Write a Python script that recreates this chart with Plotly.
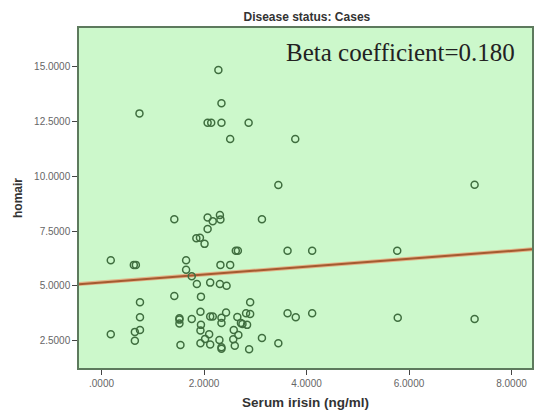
import plotly.graph_objects as go

# Data (Serum irisin vs homair)
irisin = [0.74, 2.28, 2.34, 2.07, 2.14, 2.34, 2.87, 2.51, 3.78, 3.45, 7.28,
          1.42, 2.07, 2.17, 2.31, 2.32, 3.13, 2.07, 1.85, 1.92, 2.01,
          2.62, 2.66, 3.63, 4.11, 5.77, 0.18, 1.65, 0.63, 0.67, 1.65,
          2.32, 2.51, 1.76, 1.86, 2.12, 2.31, 2.44, 1.42, 1.94, 0.75,
          2.90, 1.93, 2.43, 2.82, 2.90, 3.63, 4.11, 0.75, 1.52, 1.52,
          1.52, 1.76, 2.12, 2.17, 2.34, 2.34, 2.65, 3.79, 5.78, 7.28,
          2.72, 2.75, 2.84, 1.94, 0.75, 0.65, 0.18, 1.93, 2.58, 2.10,
          2.67, 2.02, 2.30, 2.57, 3.13, 0.65, 1.93, 2.12, 3.45, 1.54,
          2.34, 2.34, 2.60, 2.88]
homair = [12.88, 14.86, 13.34, 12.45, 12.45, 12.45, 12.45, 11.71, 11.71, 9.61, 9.62,
          8.04, 8.12, 7.95, 8.24, 8.03, 8.04, 7.60, 7.18, 7.20, 6.92,
          6.61, 6.61, 6.61, 6.61, 6.61, 6.17, 6.17, 5.96, 5.96, 5.74,
          5.96, 5.96, 5.44, 5.09, 5.15, 5.09, 5.01, 4.54, 4.51, 4.25,
          4.25, 3.82, 3.78, 3.75, 3.72, 3.75, 3.75, 3.57, 3.52, 3.46,
          3.28, 3.49, 3.60, 3.60, 3.55, 3.31, 3.58, 3.57, 3.55, 3.49,
          3.30, 3.26, 3.22, 3.22, 2.99, 2.90, 2.79, 2.96, 2.99, 2.79,
          2.76, 2.58, 2.53, 2.56, 2.62, 2.49, 2.38, 2.32, 2.38, 2.30,
          2.20, 2.13, 2.27, 2.11]

fit_intercept = 5.16
fit_slope = 0.18

x_tickvals = [0, 2, 4, 6, 8]
x_ticktext = [".0000", "2.0000", "4.0000", "6.0000", "8.0000"]
y_tickvals = [2.5, 5.0, 7.5, 10.0, 12.5, 15.0]
y_ticktext = ["2.5000", "5.0000", "7.5000", "10.0000", "12.5000", "15.0000"]

x_range = [-0.44, 8.40]
y_range = [1.25, 16.78]

fig = go.Figure()

fit_y = [fit_intercept + fit_slope * v for v in x_range]
fig.add_trace(go.Scatter(
    x=x_range, y=fit_y, mode="lines",
    line=dict(color="#e2b488", width=4),
    hoverinfo="skip", showlegend=False,
))
fig.add_trace(go.Scatter(
    x=x_range, y=fit_y, mode="lines",
    line=dict(color="#a55a30", width=2),
    hoverinfo="skip", showlegend=False,
))

fig.add_trace(go.Scatter(
    x=irisin, y=homair, mode="markers",
    marker=dict(symbol="circle-open", size=7, color="#3f6e3f",
                line=dict(width=1.5)),
    showlegend=False,
))

axis_common = dict(
    showgrid=False, zeroline=False,
    showline=True, mirror=True, linecolor="#5d7a5d", linewidth=1.5,
    ticks="outside", ticklen=5, tickwidth=1.2, tickcolor="#444",
    tickfont=dict(family="Liberation Sans, Arial", size=10, color="#666"),
)

fig.update_layout(
    width=536, height=413,
    margin=dict(l=79, r=2, t=28, b=45),
    paper_bgcolor="white",
    plot_bgcolor="#ccf8cb",
    title=dict(text="<b>Disease status: Cases</b>", x=0.5725, xanchor="center",
               y=1 - 17 / 413, yanchor="middle",
               font=dict(family="Liberation Sans, Arial", size=12, color="#333")),
    xaxis=dict(range=x_range, tickvals=x_tickvals, ticktext=x_ticktext,
               title=dict(text="<b>Serum irisin (ng/ml)</b>", standoff=10,
                          font=dict(family="Liberation Sans, Arial", size=13.5, color="#333")),
               **axis_common),
    yaxis=dict(range=y_range, tickvals=y_tickvals, ticktext=y_ticktext,
               title=dict(text="<b>homair</b>", standoff=9,
                          font=dict(family="Liberation Sans, Arial", size=12, color="#333")),
               **axis_common),
    annotations=[dict(
        text="Beta coefficient=0.180", xref="paper", yref="paper",
        x=0.967, y=1 - (53 - 28) / 340, xanchor="right", yanchor="middle",
        showarrow=False,
        font=dict(family="Liberation Serif, Times New Roman", size=25, color="#222"),
    )],
)

fig.write_html("out.html")
